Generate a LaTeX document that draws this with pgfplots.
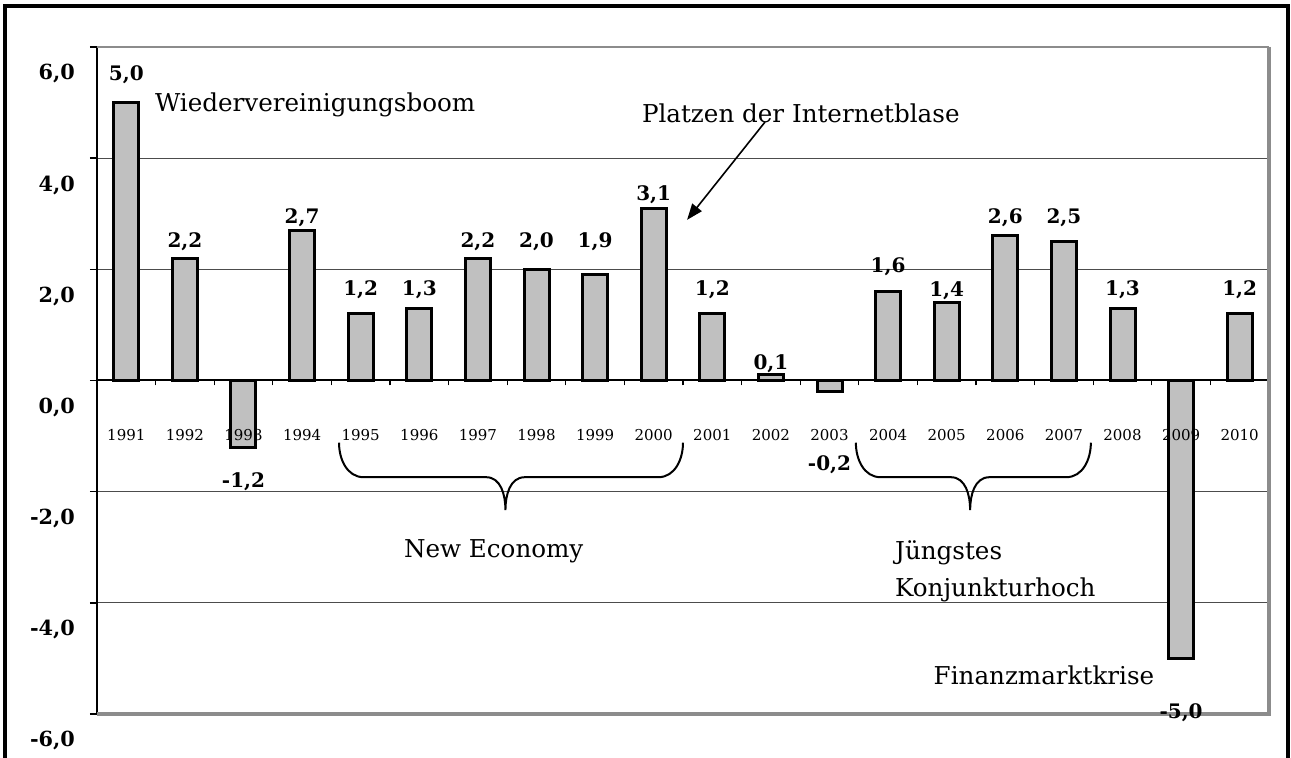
\documentclass[border=0pt]{standalone}
\usepackage{fontspec}
\setmainfont{DejaVu Serif}
\usepackage{pgfplots}
\usepackage{pgfplotstable}
\pgfplotsset{compat=1.18}
\usetikzlibrary{arrows.meta}
\definecolor{barfill}{HTML}{C0C0C0}
\definecolor{frameg}{HTML}{8C8C8C}
\pgfkeys{/pgf/number format/.cd, use comma, fixed, fixed zerofill, precision=1, assume math mode=true}

\pgfplotstableread{
x year val ly yl
0 1991 5.0 5.50 -0.98
1 1992 2.2 2.49 -0.98
2 1993 -1.2 -1.83 -0.98
3 1994 2.7 2.92 -0.98
4 1995 1.2 1.63 -0.98
5 1996 1.3 1.63 -0.98
6 1997 2.2 2.49 -0.98
7 1998 2.0 2.49 -0.98
8 1999 1.9 2.49 -0.98
9 2000 3.1 3.34 -0.98
10 2001 1.2 1.63 -0.98
11 2002 0.1 0.31 -0.98
12 2003 -0.2 -1.52 -0.98
13 2004 1.6 2.04 -0.98
14 2005 1.4 1.61 -0.98
15 2006 2.6 2.92 -0.98
16 2007 2.5 2.92 -0.98
17 2008 1.3 1.63 -0.98
18 2009 -5.0 -5.98 -0.98
19 2010 1.2 1.63 -0.98
}\gdpdata

\newcommand\annfont{\fontsize{12.3}{14}\selectfont}

\begin{document}
\begin{tikzpicture}
\begin{axis}[
  at={(0,0)}, anchor=south west,
  scale only axis, width=586pt, height=333.5pt,
  xmin=-0.5, xmax=19.5, ymin=-6, ymax=6,
  clip=false,
  axis x line=middle, axis y line=left,
  axis line style={-, black, line width=1pt},
  hide obscured x ticks=false, hide obscured y ticks=false,
  xtick={0,...,19},
  xticklabels={},
  minor xtick={-0.5,0.5,...,19.5},
  major x tick style={draw=none},
  minor x tick style={black, line width=0.6pt},
  tick align=outside,
  minor tick length=2.5pt, major tick length=3.5pt,
  ytick={-6,-4,...,6},
  y tick style={black, line width=0.8pt},
  ymajorgrids, grid style={black!70, line width=0.6pt},
  yticklabel style={font=\fontsize{10.4}{12}\selectfont\bfseries, anchor=east, xshift=-4pt, yshift=-13.5pt},
]
\draw[frameg, line width=1pt] (rel axis cs:0,1) -- (rel axis cs:1,1);
\draw[frameg, line width=1.8pt] (rel axis cs:1,1) -- (rel axis cs:1,0) -- (rel axis cs:0,0);
\addplot[ybar, bar width=12.5pt, bar shift=0pt, fill=barfill, draw=black, line width=1.5pt]
  table[x=x, y=val] {\gdpdata};
\addplot[draw=none, mark=none, nodes near coords, point meta=explicit symbolic,
  nodes near coords style={anchor=center, font=\fontsize{7.5}{9}\selectfont}]
  table[x=x, y=yl, meta=year] {\gdpdata};
\addplot[draw=none, mark=none, nodes near coords, point meta=explicit,
  nodes near coords style={anchor=center, font=\fontsize{10}{12}\selectfont\bfseries}]
  table[x=x, y=ly, meta=val] {\gdpdata};

\node[anchor=west, font=\annfont] at (axis cs:0.37,4.96) {Wiedervereinigungsboom};
\node[font=\annfont] at (axis cs:11.51,4.81) {Platzen der Internetblase};
\draw[-{Triangle[length=8pt,width=6pt]}, line width=0.8pt] (axis cs:10.90,4.65) -- (axis cs:9.57,2.89);
\node[font=\annfont] at (axis cs:6.27,-3.07) {New Economy};
\node[anchor=west, font=\annfont] at (axis cs:13.0,-3.10) {Jüngstes};
\node[anchor=west, font=\annfont] at (axis cs:13.0,-3.77) {Konjunkturhoch};
\node[font=\annfont] at (axis cs:15.66,-5.30) {Finanzmarktkrise};
\draw[line width=1pt] (axis cs:3.63,-1.12) to[out=-90,in=180] (axis cs:4.05,-1.74)
  -- (axis cs:6.14,-1.74) to[out=0,in=90] (axis cs:6.47,-2.33)
  to[out=90,in=180] (axis cs:6.80,-1.74) -- (axis cs:9.08,-1.74)
  to[out=0,in=-90] (axis cs:9.50,-1.12);
\draw[line width=1pt] (axis cs:12.45,-1.12) to[out=-90,in=180] (axis cs:12.87,-1.74)
  -- (axis cs:14.07,-1.74) to[out=0,in=90] (axis cs:14.40,-2.33)
  to[out=90,in=180] (axis cs:14.73,-1.74) -- (axis cs:16.04,-1.74)
  to[out=0,in=-90] (axis cs:16.46,-1.12);
\end{axis}
\draw[line width=2pt] (-46pt,-40pt) rectangle (595.5pt,354pt);
\pgfresetboundingbox
\path[use as bounding box] (-48.5pt,-22pt) rectangle (597pt,357pt);
\end{tikzpicture}
\end{document}
